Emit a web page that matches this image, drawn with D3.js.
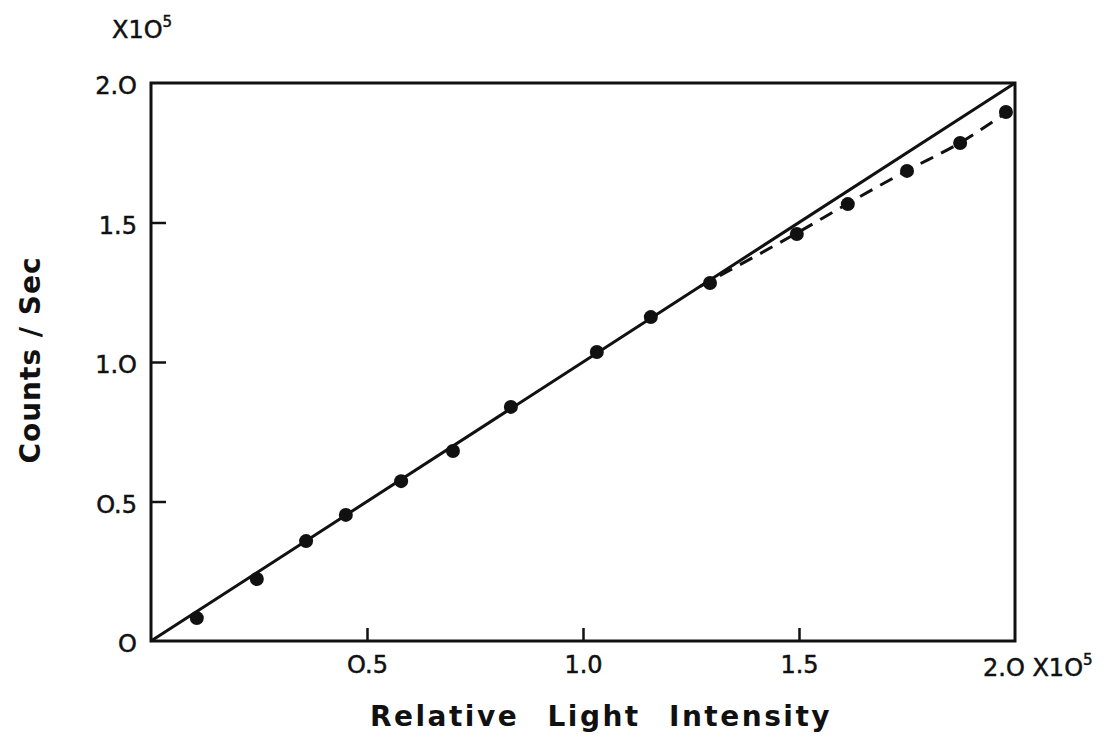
<!DOCTYPE html>
<html>
<head>
<meta charset="utf-8">
<script src="https://d3js.org/d3.v7.min.js"></script>
<style>
  html, body { margin: 0; padding: 0; background: #fff; }
  svg { display: block; }
  text { font-family: "DejaVu Sans", "Liberation Sans", sans-serif; fill: #111; }
  .num { stroke: #111; stroke-width: 0.5px; }
</style>
</head>
<body>
<svg id="chart" width="1106" height="740"></svg>
<script>
// light intensity (x10^5) and measured counts/sec (x10^5)
const intensity = [0.106, 0.245, 0.359, 0.451, 0.579, 0.699, 0.833, 1.032, 1.157, 1.294, 1.495, 1.613, 1.75, 1.873, 1.979];
const counts    = [0.082, 0.222, 0.358, 0.452, 0.573, 0.681, 0.839, 1.036, 1.161, 1.283, 1.459, 1.566, 1.685, 1.785, 1.896];

// ideal linear response
const idealX = [0, 2.0];
const idealY = [0, 2.0];

// dashed saturation curve
const satX = [1.27, 1.40, 1.495, 1.613, 1.75, 1.873, 1.979];
const satY = [1.27, 1.38, 1.462, 1.568, 1.686, 1.786, 1.893];

const xTicks = [0.5, 1.0, 1.5];
const xTickLabels = ["O.5", "1.0", "1.5"];
const yTicks = [0, 0.5, 1.0, 1.5, 2.0];
const yTickLabels = ["O", "O.5", "1.O", "1.5", "2.O"];

const svg = d3.select("#chart");
const margin = { top: 83, right: 91, bottom: 99, left: 151 };
const width = 1106 - margin.left - margin.right;
const height = 740 - margin.top - margin.bottom;

const x = d3.scaleLinear().domain([0, 2]).range([0, width]);
const y = d3.scaleLinear().domain([0, 2]).range([height, 0]);

const g = svg.append("g").attr("transform", `translate(${margin.left},${margin.top})`);

// frame
g.append("rect")
  .attr("x", 0).attr("y", 0)
  .attr("width", width).attr("height", height)
  .attr("fill", "none").attr("stroke", "#111").attr("stroke-width", 3);

// x axis ticks (inward)
const xAxis = d3.axisBottom(x).tickValues(xTicks).tickSize(-13).tickSizeOuter(0)
  .tickFormat((d, i) => xTickLabels[i]).tickPadding(15);
const xg = g.append("g").attr("transform", `translate(0,${height})`).call(xAxis);
xg.select(".domain").remove();
xg.selectAll(".tick line").attr("stroke", "#111").attr("stroke-width", 2.5);
xg.selectAll(".tick text").attr("class", "num").style("font-size", "24px").attr("fill", "#111");

// y axis ticks (inward)
const yAxis = d3.axisLeft(y).tickValues(yTicks).tickSize(-15).tickSizeOuter(0)
  .tickFormat((d, i) => yTickLabels[i]).tickPadding(14);
const yg = g.append("g").call(yAxis);
yg.select(".domain").remove();
yg.selectAll(".tick line").attr("stroke", "#111").attr("stroke-width", 2.5)
  .filter(d => d === 0 || d === 2).remove();
yg.selectAll(".tick text").attr("class", "num").style("font-size", "24px").attr("fill", "#111").attr("dy", "0.45em");

// trailing x label at 2.0
g.append("text")
  .attr("class", "num")
  .attr("x", x(2) - 32).attr("y", height + 35)
  .style("font-size", "24px")
  .html('2.O X1O<tspan dy="-11" style="font-size:15px">5</tspan>');

// top-left multiplier
svg.append("text")
  .attr("class", "num")
  .attr("x", 112).attr("y", 38)
  .style("font-size", "24px")
  .html('X1O<tspan dy="-11" style="font-size:15px">5</tspan>');

const line = d3.line().x(d => x(d[0])).y(d => y(d[1]));

// ideal line
g.append("path")
  .datum(d3.zip(idealX, idealY))
  .attr("d", line)
  .attr("fill", "none").attr("stroke", "#111").attr("stroke-width", 3);

// saturation dashed curve
g.append("path")
  .datum(d3.zip(satX, satY))
  .attr("d", line.curve(d3.curveMonotoneX))
  .attr("fill", "none").attr("stroke", "#111").attr("stroke-width", 3)
  .attr("stroke-dasharray", "14,9");

// data points
g.selectAll("circle.pt")
  .data(d3.zip(intensity, counts))
  .enter().append("circle")
  .attr("class", "pt")
  .attr("cx", d => x(d[0]))
  .attr("cy", d => y(d[1]))
  .attr("r", 7)
  .attr("fill", "#111");

// axis titles
svg.append("text")
  .attr("x", margin.left + width / 2 + 18).attr("y", 726)
  .attr("text-anchor", "middle")
  .style("font-size", "28px").style("font-weight", "bold")
  .style("letter-spacing", "2.5px").style("word-spacing", "16px")
  .text("Relative Light Intensity");

svg.append("text")
  .attr("transform", `translate(40,360) rotate(-90)`)
  .attr("text-anchor", "middle")
  .style("font-size", "28px").style("font-weight", "bold")
  .style("letter-spacing", "1px")
  .text("Counts / Sec");
</script>
</body>
</html>
